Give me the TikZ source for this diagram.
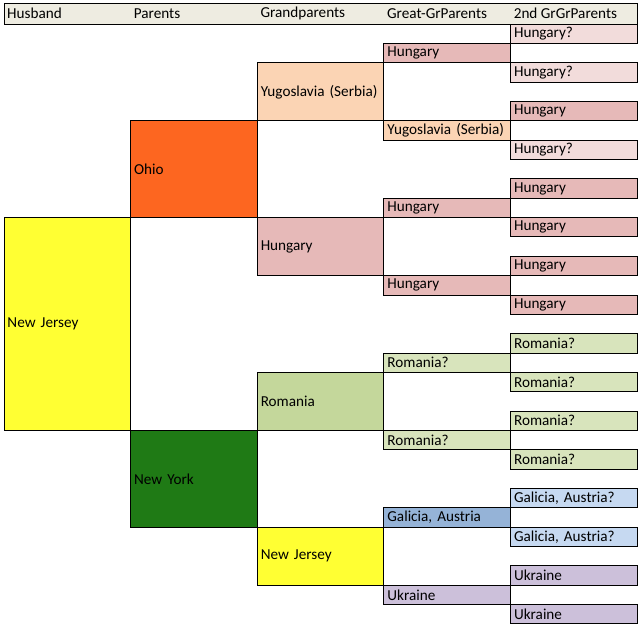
\documentclass[tikz,border=0pt]{standalone}
\usepackage{fontspec}
\setmainfont{Carlito}
\frenchspacing
\definecolor{hdrc}{HTML}{EEECE1}
\definecolor{njc}{HTML}{FFFF33}
\definecolor{ohc}{HTML}{FD6620}
\definecolor{nyc}{HTML}{1F7A15}
\definecolor{yuc}{HTML}{FBD4B4}
\definecolor{huc}{HTML}{E6B9B8}
\definecolor{hqc}{HTML}{F2DCDB}
\definecolor{rgc}{HTML}{C4D79B}
\definecolor{rqc}{HTML}{D8E4BC}
\definecolor{gac}{HTML}{95B3D7}
\definecolor{gqc}{HTML}{C6D9F1}
\definecolor{ukc}{HTML}{CCC0DA}
\newcommand\cellbox[6]{%
  \node[cell, fill=#5, minimum height=#4*19.35pt] (#1) at (3.5+126.65*#2, 23.6+19.35*#3) {#6};}
\begin{document}
\begin{tikzpicture}[x=1pt,y=-1pt,
  cell/.style={draw=black, line width=0.9pt, anchor=north west, inner xsep=3.5pt, inner ysep=0pt,
    text width=119.65pt, align=left, font=\fontsize{15.2}{17}\selectfont},
  hdrtext/.style={anchor=west, inner sep=0pt, font=\fontsize{15.2}{17}\selectfont}]
\useasboundingbox (0,0) rectangle (640,629);
% header
\node[draw=black, line width=0.9pt, fill=hdrc, anchor=north west, minimum width=633.25pt, minimum height=20.3pt, inner sep=0pt] (hdr) at (3.5,3.3) {};
\node[hdrtext] (h0) at (7,13.6) {Husband};
\node[hdrtext] (h1) at (133.65,13.6) {Parents};
\node[hdrtext] (h2) at (260.3,13.6) {Grandparents};
\node[hdrtext] (h3) at (386.95,13.6) {Great-GrParents};
\node[hdrtext] (h4) at (513.6,13.6) {2nd GrGrParents};
% husband
\cellbox{nj}{0}{10}{11}{njc}{New Jersey}
% parents
\cellbox{oh}{1}{5}{5}{ohc}{Ohio}
\cellbox{ny}{1}{21}{5}{nyc}{New York}
% grandparents
\cellbox{g1}{2}{2}{3}{yuc}{Yugoslavia (Serbia)}
\cellbox{g2}{2}{10}{3}{huc}{Hungary}
\cellbox{g3}{2}{18}{3}{rgc}{Romania}
\cellbox{g4}{2}{26}{3}{njc}{New Jersey}
% great-grandparents
\cellbox{a1}{3}{1}{1}{huc}{Hungary}
\cellbox{a2}{3}{5}{1}{yuc}{Yugoslavia (Serbia)}
\cellbox{a3}{3}{9}{1}{huc}{Hungary}
\cellbox{a4}{3}{13}{1}{huc}{Hungary}
\cellbox{a5}{3}{17}{1}{rqc}{Romania?}
\cellbox{a6}{3}{21}{1}{rqc}{Romania?}
\cellbox{a7}{3}{25}{1}{gac}{Galicia, Austria}
\cellbox{a8}{3}{29}{1}{ukc}{Ukraine}
% 2nd great-grandparents
\cellbox{b1}{4}{0}{1}{hqc}{Hungary?}
\cellbox{b2}{4}{2}{1}{hqc}{Hungary?}
\cellbox{b3}{4}{4}{1}{huc}{Hungary}
\cellbox{b4}{4}{6}{1}{hqc}{Hungary?}
\cellbox{b5}{4}{8}{1}{huc}{Hungary}
\cellbox{b6}{4}{10}{1}{huc}{Hungary}
\cellbox{b7}{4}{12}{1}{huc}{Hungary}
\cellbox{b8}{4}{14}{1}{huc}{Hungary}
\cellbox{b9}{4}{16}{1}{rqc}{Romania?}
\cellbox{b10}{4}{18}{1}{rqc}{Romania?}
\cellbox{b11}{4}{20}{1}{rqc}{Romania?}
\cellbox{b12}{4}{22}{1}{rqc}{Romania?}
\cellbox{b13}{4}{24}{1}{gqc}{Galicia, Austria?}
\cellbox{b14}{4}{26}{1}{gqc}{Galicia, Austria?}
\cellbox{b15}{4}{28}{1}{ukc}{Ukraine}
\cellbox{b16}{4}{30}{1}{ukc}{Ukraine}
\end{tikzpicture}
\end{document}
